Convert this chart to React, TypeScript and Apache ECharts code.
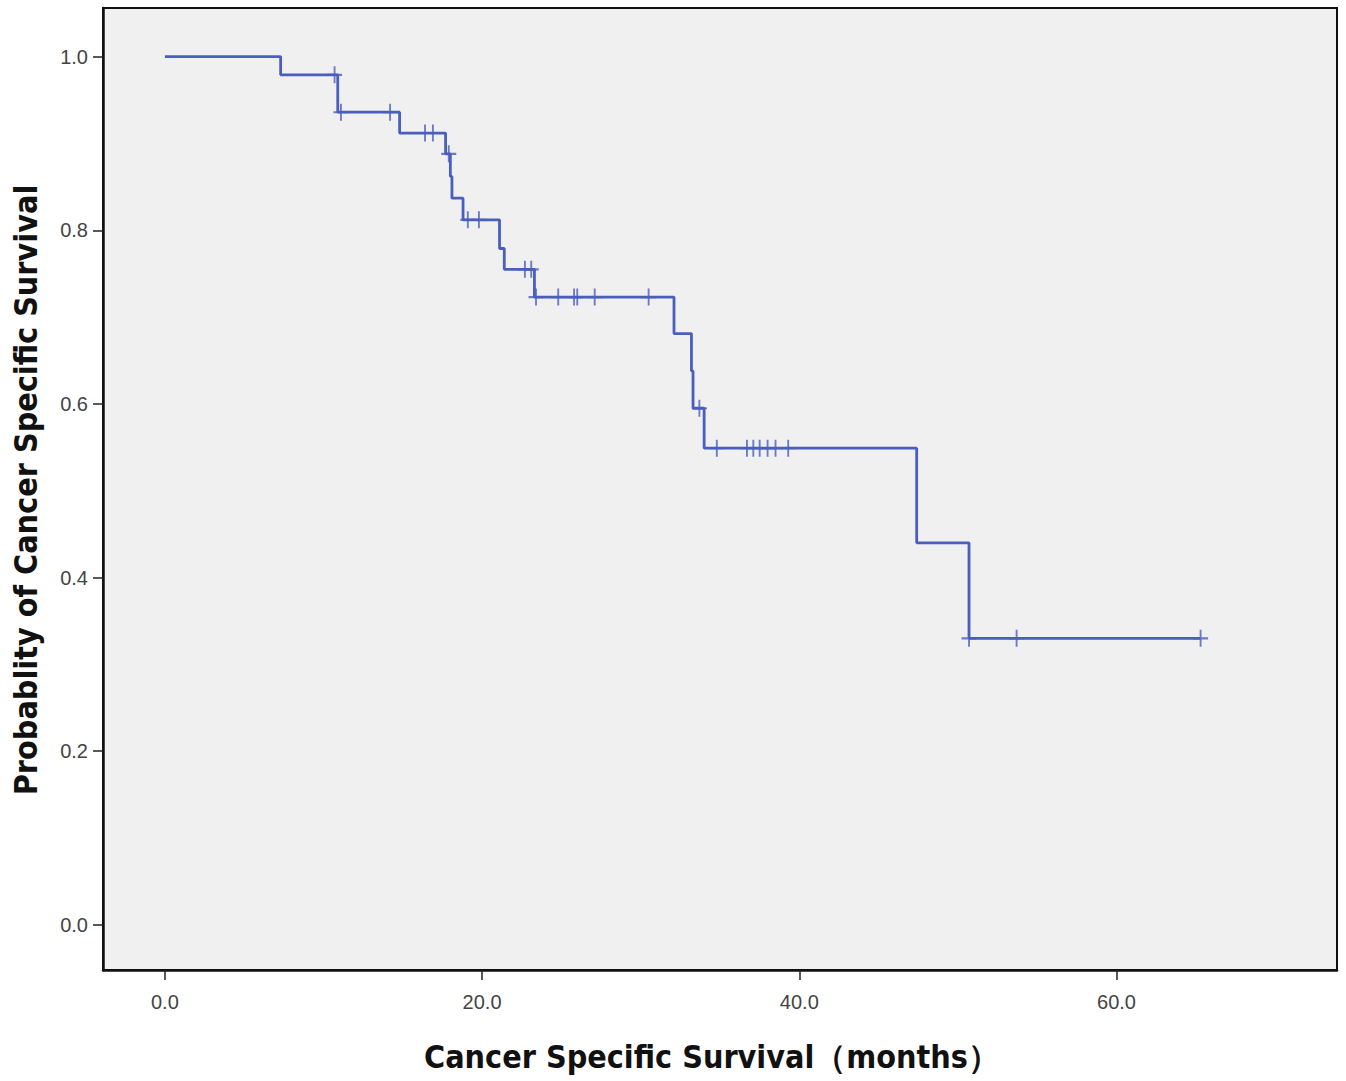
import React, { useEffect, useRef } from "react";
import * as echarts from "echarts";

// Kaplan-Meier step points (time in months, survival probability)
const eventTimes = [0, 7.3, 10.9, 14.8, 17.7, 18.0, 18.1, 18.8, 21.1, 21.4, 23.3, 32.1, 33.2, 33.3, 34.0, 47.4, 50.7, 65.3];
const survival = [1.0, 0.979, 0.936, 0.912, 0.888, 0.862, 0.837, 0.812, 0.779, 0.755, 0.723, 0.681, 0.638, 0.595, 0.549, 0.44, 0.33, 0.33];

// Censored observations
const censorTimes = [10.7, 11.1, 14.2, 16.4, 16.9, 17.9, 19.1, 19.8, 22.7, 23.1, 23.4, 24.8, 25.8, 26.0, 27.1, 30.5, 33.7, 34.8, 36.7, 37.1, 37.5, 38.0, 38.5, 39.3, 50.7, 53.7, 65.3];
const censorValues = [0.979, 0.936, 0.936, 0.912, 0.912, 0.888, 0.812, 0.812, 0.755, 0.755, 0.723, 0.723, 0.723, 0.723, 0.723, 0.723, 0.595, 0.549, 0.549, 0.549, 0.549, 0.549, 0.549, 0.549, 0.33, 0.33, 0.33];

const xTicks = [0, 20, 40, 60];
const yTicks = [0, 0.2, 0.4, 0.6, 0.8, 1.0];

const xTitle = "Cancer Specific Survival（months）";
const yTitle = "Probablity of Cancer Specific Survival";

const LINE = "#4A5EBD";
const TITLE_FONT = '"Liberation Sans Narrow", "DejaVu Sans Condensed", "Liberation Sans", sans-serif';

export default function App() {
  const ref = useRef<HTMLDivElement>(null);
  useEffect(() => {
    document.body.style.margin = "0";
    const chart = echarts.init(ref.current!, null, { renderer: "svg" });
    const curve = eventTimes.map((t, i) => [t, survival[i]]);
    const censors = censorTimes.map((t, i) => [t, censorValues[i]]);
    chart.setOption({
      animation: false,
      backgroundColor: "#ffffff",
      grid: {
        left: 103,
        top: 8,
        right: 9,
        bottom: 111,
        show: true,
        backgroundColor: "#F0F0F0",
        borderColor: "#111",
        borderWidth: 2,
      },
      xAxis: {
        type: "value",
        min: -3.9,
        max: 73.9,
        axisLine: { show: true, onZero: false, lineStyle: { color: "#111", width: 2.5 } },
        axisTick: { show: true, customValues: xTicks, length: 10, lineStyle: { color: "#222", width: 1.5 } },
        axisLabel: {
          customValues: xTicks,
          formatter: (v: number) => v.toFixed(1),
          fontFamily: '"Liberation Sans", Arial, sans-serif',
          fontSize: 20,
          color: "#444",
          margin: 22,
        },
        splitLine: { show: false },
      },
      yAxis: {
        type: "value",
        min: -0.052,
        max: 1.056,
        axisLine: { show: true, onZero: false, lineStyle: { color: "#111", width: 2.5 } },
        axisTick: { show: true, customValues: yTicks, length: 10, lineStyle: { color: "#222", width: 1.5 } },
        axisLabel: {
          customValues: yTicks,
          formatter: (v: number) => v.toFixed(1),
          fontFamily: '"Liberation Sans", Arial, sans-serif',
          fontSize: 20,
          color: "#444",
          margin: 15,
        },
        splitLine: { show: false },
      },
      series: [
        {
          type: "line",
          data: curve,
          step: "end",
          showSymbol: false,
          lineStyle: { color: LINE, width: 2.8 },
          silent: true,
        },
        {
          type: "scatter",
          data: censors,
          symbol: "path://M8.75,0 H11.25 V8.75 H20 V11.25 H11.25 V20 H8.75 V11.25 H0 V8.75 H8.75 Z",
          symbolSize: [15, 17],
          itemStyle: { color: LINE },
          silent: true,
        },
      ],
      graphic: [
        {
          type: "text",
          x: 712,
          y: 1057,
          style: {
            text: xTitle,
            font: `bold 32px ${TITLE_FONT}`,
            fill: "#111",
            align: "center",
            verticalAlign: "middle",
          },
        },
        {
          type: "text",
          x: 26,
          y: 490,
          rotation: Math.PI / 2,
          style: {
            text: yTitle,
            font: `bold 32px ${TITLE_FONT}`,
            fill: "#111",
            align: "center",
            verticalAlign: "middle",
          },
        },
      ],
    });
    return () => chart.dispose();
  }, []);
  return <div ref={ref} style={{ width: 1346, height: 1081 }} />;
}
